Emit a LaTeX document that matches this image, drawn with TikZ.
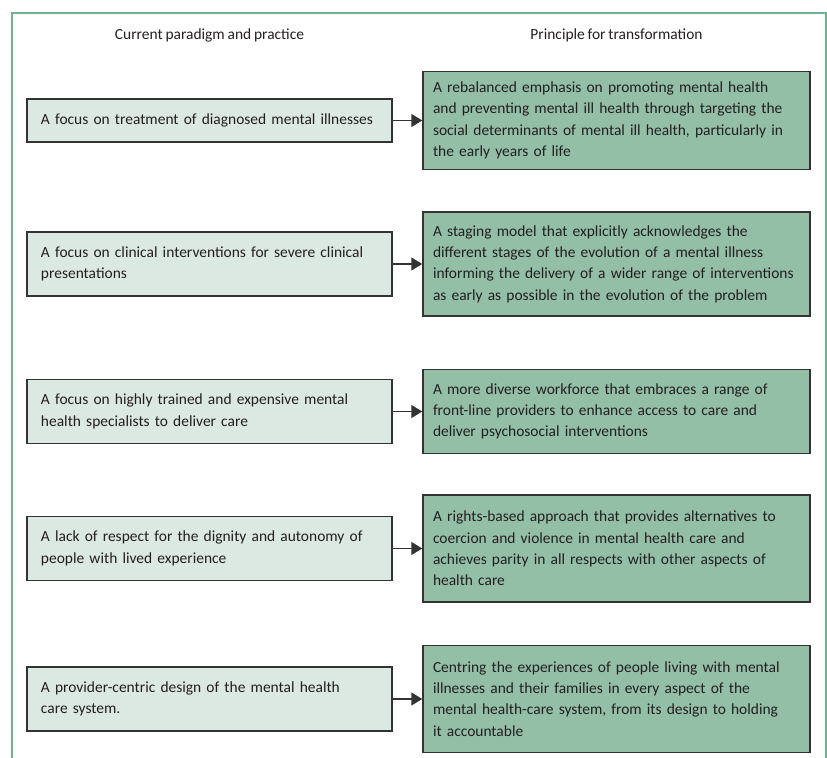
\documentclass[tikz,border=0pt]{standalone}
\usepackage{fontspec}
\setmainfont[WordSpace=0.8]{Carlito}
\usetikzlibrary{arrows.meta}
\definecolor{framegreen}{RGB}{110,178,146}
\definecolor{curfill}{RGB}{220,233,226}
\definecolor{prinfill}{RGB}{147,191,166}
\definecolor{boxline}{RGB}{51,51,51}
\definecolor{txtgray}{RGB}{35,31,32}
\hyphenpenalty=10000

\begin{document}
\begin{tikzpicture}[font=\fontsize{8.8}{12.1}\selectfont, text=txtgray,
	cur/.style={draw=boxline, line width=0.3mm, fill=curfill, align=left, text width=67.4mm, inner xsep=2.8mm, inner ysep=0mm},
	prin/.style={draw=boxline, line width=0.3mm, fill=prinfill, align=left, text width=73.4mm, inner xsep=2mm, inner ysep=0mm},
	arr/.style={draw=boxline, line width=0.3mm, -{Triangle[length=2.2mm,width=2.6mm]}}]

	\useasboundingbox (0,0) rectangle (165.4mm,-151.6mm);%画布
	\draw [framegreen, line width=0.3mm] (2.4mm,-151.6mm)--(2.4mm,-2.6mm)--(165.2mm,-2.6mm)--(165.2mm,-151.6mm);%外框

	\node (hcur) at (41.9mm,-7mm) {Current paradigm and practice};%左标题
	\node (hprin) at (123.3mm,-7mm) {Principle for transformation};%右标题

	%左列
	\node [cur, minimum height=8.6mm] (cur1) at (41.9mm,-24.1mm) {A focus on treatment of diagnosed mental illnesses};
	\node [cur, minimum height=12.8mm] (cur2) at (41.9mm,-52.8mm) {A focus on clinical interventions for severe clinical\\presentations};
	\node [cur, minimum height=12.8mm] (cur3) at (41.9mm,-82.3mm) {A focus on highly trained and expensive mental\\health specialists to deliver care};
	\node [cur, minimum height=12.8mm] (cur4) at (41.9mm,-109.7mm) {A lack of respect for the dignity and autonomy of\\people with lived experience};
	\node [cur, minimum height=12.8mm] (cur5) at (41.9mm,-139.8mm) {A provider-centric design of the mental health\\care system.};

	%右列
	\node [prin, minimum height=19.6mm] (prin1) at (123.3mm,-24.1mm) {A rebalanced emphasis on promoting mental health\\and preventing mental ill health through targeting the\\social determinants of mental ill health, particularly in\\the early years of life};
	\node [prin, minimum height=20.8mm] (prin2) at (123.3mm,-52.8mm) {A staging model that explicitly acknowledges the\\different stages of the evolution of a mental illness\\informing the delivery of a wider range of interventions\\as early as possible in the evolution of the problem};
	\node [prin, minimum height=16.8mm] (prin3) at (123.3mm,-82.3mm) {A more diverse workforce that embraces a range of\\front-line providers to enhance access to care and\\deliver psychosocial interventions};
	\node [prin, minimum height=21.4mm] (prin4) at (123.3mm,-109.7mm) {A rights-based approach that provides alternatives to\\coercion and violence in mental health care and\\achieves parity in all respects with other aspects of\\health care};
	\node [prin, minimum height=21.4mm] (prin5) at (123.3mm,-139.8mm) {Centring the experiences of people living with mental\\illnesses and their families in every aspect of the\\mental health-care system, from its design to holding\\it accountable};

	\foreach \i in {1,...,5}
	\draw [arr] (cur\i)--(prin\i);%箭头

\end{tikzpicture}
\end{document}
